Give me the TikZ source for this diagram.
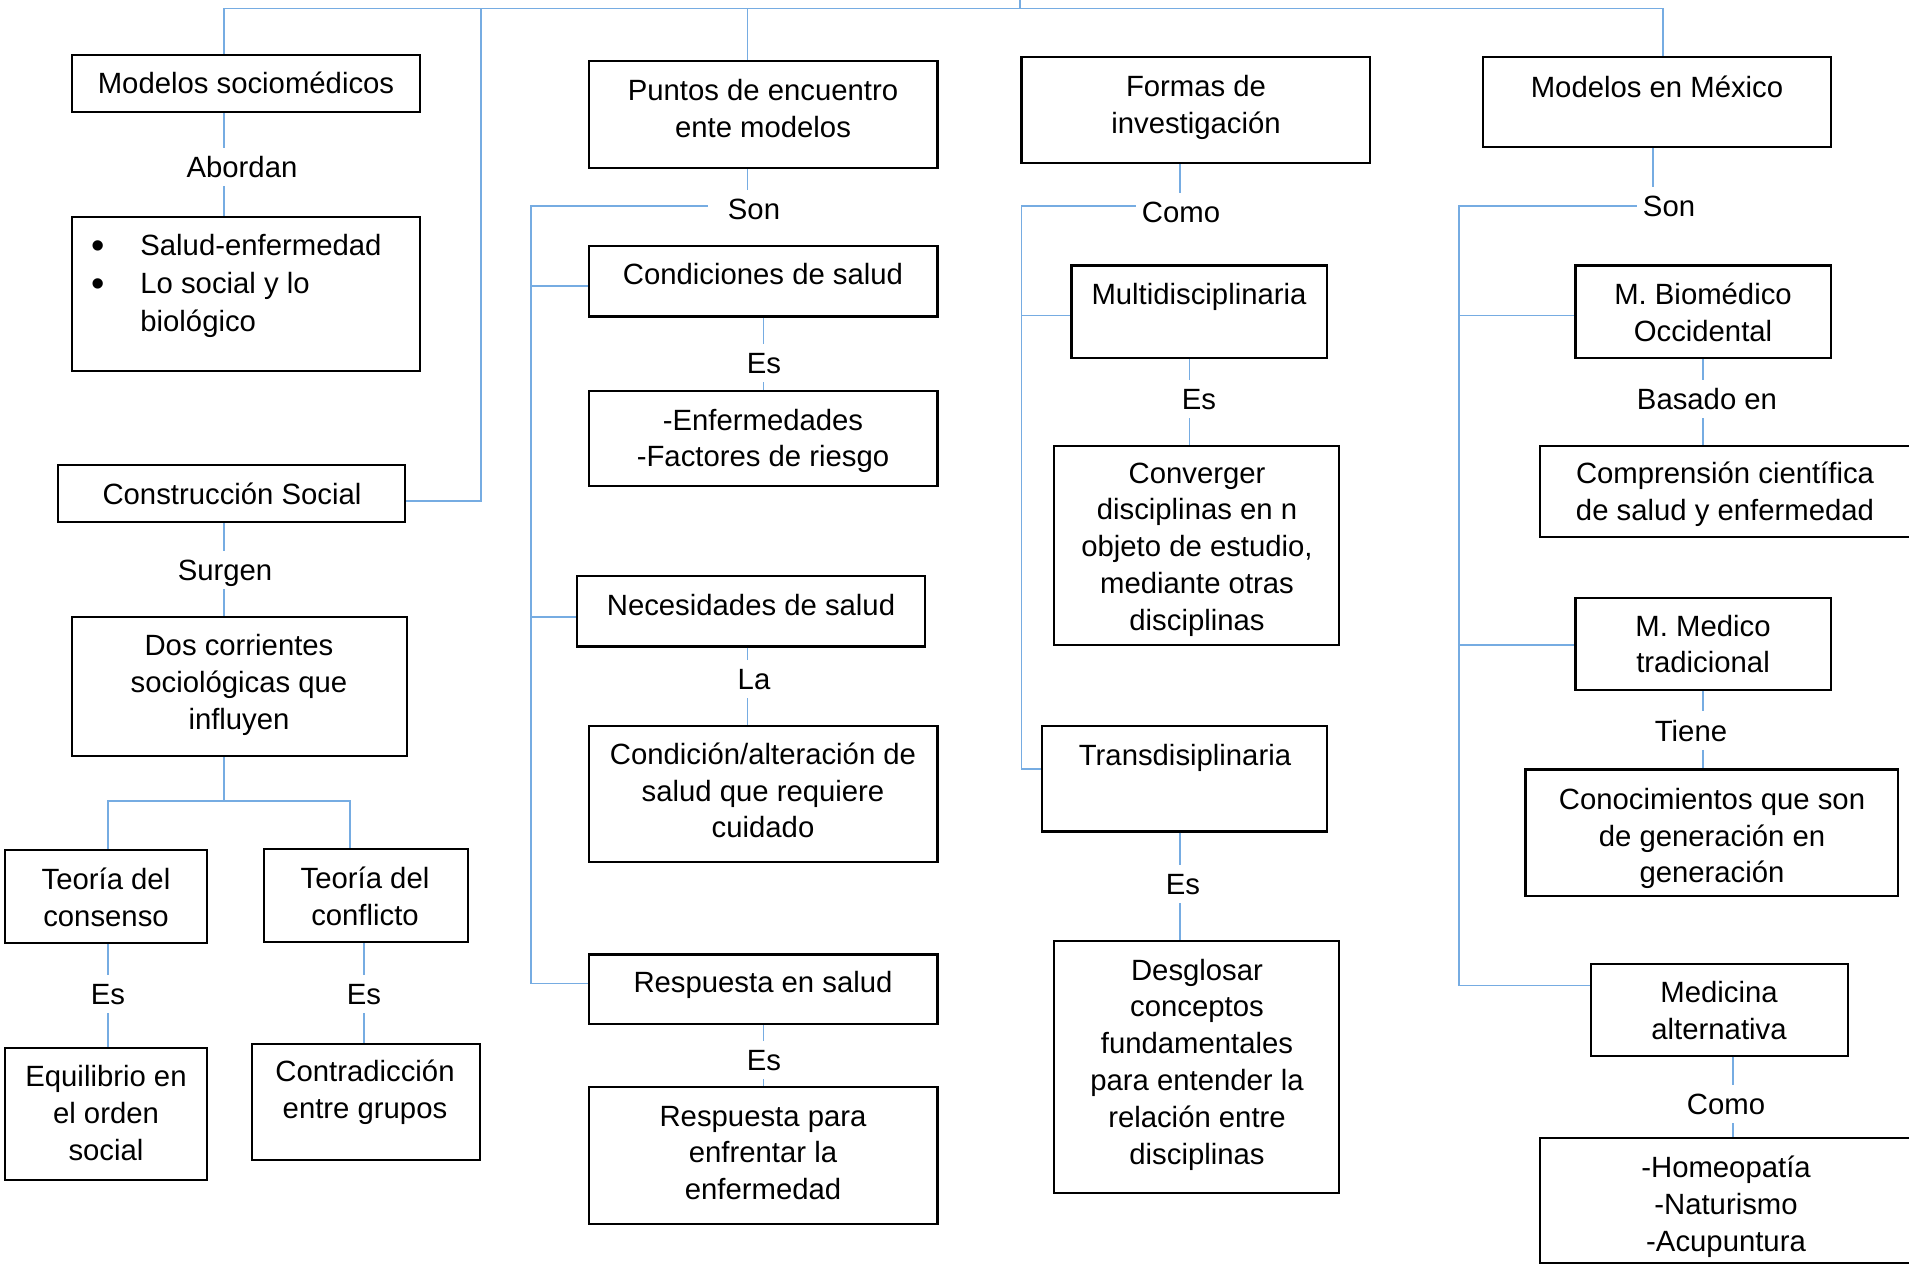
\documentclass[tikz,border=0pt]{standalone}
\usepackage{fontspec}
\setmainfont{Liberation Sans}
\usetikzlibrary{fit,calc}
\definecolor{connc}{RGB}{118,172,226}
\newcommand\fsz{\fontsize{14.65pt}{18.4pt}\selectfont}
\newcommand\bigbul{\raisebox{-1.3pt}{\fontsize{19pt}{0pt}\selectfont\textbullet}}
\begin{document}
\begin{tikzpicture}[x=0.5pt,y=-0.5pt,
  box/.style={draw=black,line width=1.1pt,inner sep=0pt,rectangle},
  txt/.style={inner sep=0pt,align=center,font=\fsz},
  lbl/.style={inner xsep=3pt,inner ysep=4.25pt,text height=10.5pt,text depth=0pt,font=\fsz},
  conn/.style={draw=connc,line width=0.9pt}]
\useasboundingbox (0,0) rectangle (1909,1265);
\clip (0,0) rectangle (1909,1265);

% ---------- column 1 ----------
\node[box,fit={(72,55) (420,112)}] (ms) {};
\node[txt] (mst) at (246,83) {Modelos sociomédicos};
\node[lbl] (abordan) at (242,167) {Abordan};
\node[box,fit={(72,217) (420,371)}] (sb) {};
\node[txt,anchor=west,align=left,font=\fontsize{14.65pt}{18.9pt}\selectfont] (sbt) at (91,286) {\makebox[24.5pt][l]{\bigbul}Salud-enfermedad\\\makebox[24.5pt][l]{\bigbul}Lo social y lo\\\hspace*{24.5pt}biológico};
\node[box,fit={(58,465) (405,522)}] (cs) {};
\node[txt] (cst) at (232,493.5) {Construcción Social};
\node[lbl] (surgen) at (225,570) {Surgen};
\node[box,fit={(72,617) (407,756)}] (dc) {};
\node[txt] (dct) at (239,685) {Dos corrientes\\sociológicas que\\influyen};
\node[box,fit={(5,850) (207,943)}] (tc1) {};
\node[txt] (tc1t) at (106,897) {Teoría del\\consenso};
\node[box,fit={(264,849) (468,942)}] (tc2) {};
\node[txt] (tc2t) at (365,896) {Teoría del\\conflicto};
\node[lbl] (es1) at (108,994) {Es};
\node[lbl] (es2) at (364,994) {Es};
\node[box,fit={(5,1048) (207,1180)}] (eq) {};
\node[txt] (eqt) at (106,1113) {Equilibrio en\\el orden\\social};
\node[box,fit={(252,1044) (480,1160)}] (ct) {};
\node[txt] (ctt) at (365,1092.5) {Contradicción\\entre grupos};

% ---------- column 2 ----------
\node[box,fit={(589,61) (937.5,168)}] (pe) {};
\node[txt] (pet) at (763,108.5) {Puntos de encuentro\\ente modelos};
\node[lbl] (son2) at (754,209) {Son};
\node[box,fit={(589,246) (937.5,316.5)}] (cds) {};
\node[txt] (cdst) at (763,274) {Condiciones de salud};
\node[lbl] (es3) at (764,363) {Es};
\node[box,fit={(589,391) (937.5,486)}] (enf) {};
\node[txt] (enft) at (763,441) {-Enfermedades\\-Factores de riesgo};
\node[box,fit={(577,576) (925,646.5)}] (nec) {};
\node[txt] (nect) at (751,605) {Necesidades de salud};
\node[lbl] (la) at (754,679) {La};
\node[box,fit={(589,725.6) (937.5,862)}] (cond) {};
\node[txt] (condt) at (763,790.5) {Condición/alteración de\\salud que requiere\\cuidado};
\node[box,fit={(589,954.5) (937.5,1024)}] (rs) {};
\node[txt] (rst) at (763,985) {Respuesta en salud};
\node[lbl] (es4) at (764,1060) {Es};
\node[box,fit={(589,1087) (937.5,1223.6)}] (rp) {};
\node[txt] (rpt) at (763,1153) {Respuesta para\\enfrentar la\\enfermedad};

% ---------- column 3 ----------
\node[box,fit={(1021.5,57) (1369.7,163)}] (fi) {};
\node[txt] (fit) at (1196,107.5) {Formas de\\investigación};
\node[lbl] (como3) at (1181,212) {Como};
\node[box,fit={(1071.4,265.4) (1327,358)}] (mul) {};
\node[txt] (mult) at (1199,297) {Multidisciplinaria};
\node[lbl] (es5) at (1199,399) {Es};
\node[box,fit={(1054,445.6) (1339,645)}] (cv) {};
\node[txt] (cvt) at (1197,549.5) {Converger\\disciplinas en n\\objeto de estudio,\\mediante otras\\disciplinas};
\node[box,fit={(1042,725.6) (1327,831.5)}] (tr) {};
\node[txt] (trt) at (1185,757.5) {Transdisiplinaria};
\node[lbl] (es6) at (1183,884) {Es};
\node[box,fit={(1054,941) (1339,1193)}] (dg) {};
\node[txt] (dgt) at (1197,1064.5) {Desglosar\\conceptos\\fundamentales\\para entender la\\relación entre\\disciplinas};

% ---------- column 4 ----------
\node[box,fit={(1483,57) (1831,147)}] (mm) {};
\node[txt] (mmt) at (1657,86.4) {Modelos en México};
\node[lbl] (son4) at (1669,206) {Son};
\node[box,fit={(1575.5,265.4) (1831,358)}] (mb) {};
\node[txt] (mbt) at (1703,312.5) {M. Biomédico\\Occidental};
\node[lbl] (bas) at (1707,399) {Basado en};
\node[box,fit={(1540,445.6) (1930,537)}] (cc) {};
\node[txt] (cct) at (1725,494.5) {Comprensión científica\\de salud y enfermedad};
\node[box,fit={(1575.5,597.8) (1831,690)}] (mt) {};
\node[txt] (mtt) at (1703,644) {M. Medico\\tradicional};
\node[lbl] (tiene) at (1691,730.5) {Tiene};
\node[box,fit={(1525.5,769.5) (1898,896)}] (cg) {};
\node[txt] (cgt) at (1712,838.5) {Conocimientos que son\\de generación en\\generación};
\node[box,fit={(1591,964) (1848,1055.6)}] (ma) {};
\node[txt] (mat) at (1719,1010.5) {Medicina\\alternativa};
\node[lbl] (como4) at (1726,1104) {Como};
\node[box,fit={(1540,1138) (1930,1263)}] (ho) {};
\node[txt] (hot) at (1726,1206.5) {-Homeopatía\\-Naturismo\\-Acupuntura};

% ---------- helper coordinates ----------
\coordinate (root) at (1020,0);
\coordinate (topL) at (224,8.5);
\coordinate (topR) at (1663,8.5);
\coordinate (Xc) at (481,8.5);
\coordinate (X1) at (224,0);
\coordinate (X2) at (747.5,8.5);
\coordinate (X2b) at (763.5,0);
\coordinate (X3) at (1180,0);
\coordinate (X3b) at (1189.5,0);
\coordinate (X4) at (1653,0);
\coordinate (X4b) at (1703,0);
\coordinate (X4c) at (1733,0);
\coordinate (brL) at (108,801);
\coordinate (brR) at (350,801);
\coordinate (Xe1) at (108,0);
\coordinate (Xe2) at (364,0);
\coordinate (T2) at (531,206);
\coordinate (T3) at (1021.5,206);
\coordinate (T4) at (1458.6,206);
\coordinate (csE) at ($(cs.north east)!0.63!(cs.south east)$);
\coordinate (cdsW) at ($(cds.north west)!0.57!(cds.south west)$);
\coordinate (necW) at ($(nec.north west)!0.58!(nec.south west)$);
\coordinate (rsW) at ($(rs.north west)!0.42!(rs.south west)$);
\coordinate (mulW) at ($(mul.north west)!0.54!(mul.south west)$);
\coordinate (trW) at ($(tr.north west)!0.41!(tr.south west)$);
\coordinate (mbW) at ($(mb.north west)!0.54!(mb.south west)$);
\coordinate (mtW) at ($(mt.north west)!0.51!(mt.south west)$);
\coordinate (maW) at ($(ma.north west)!0.24!(ma.south west)$);

% ---------- connectors ----------
\draw[conn] (root) -- (root |- topL);
\draw[conn] (ms.north -| topL) -- (topL) -- (topR) -- (topR |- mm.north);
\draw[conn] (Xc) |- (csE);
\draw[conn] (X2) -- (X2 |- pe.north);

\draw[conn] (ms.south -| X1) -- (abordan.north -| X1);
\draw[conn] (abordan.south -| X1) -- (sb.north -| X1);
\draw[conn] (cs.south -| X1) -- (surgen.north -| X1);
\draw[conn] (surgen.south -| X1) -- (dc.north -| X1);
\draw[conn] (dc.south -| X1) -- (X1 |- brL);
\draw[conn] (tc1.north -| brL) -- (brL) -- (brR) -- (tc2.north -| brR);
\draw[conn] (tc1.south -| Xe1) -- (es1.north -| Xe1);
\draw[conn] (es1.south -| Xe1) -- (eq.north -| Xe1);
\draw[conn] (tc2.south -| Xe2) -- (es2.north -| Xe2);
\draw[conn] (es2.south -| Xe2) -- (ct.north -| Xe2);

\draw[conn] (pe.south -| X2) -- (son2.north -| X2);
\draw[conn] ([xshift=-7pt]son2.west |- T2) -- (T2) -- (T2 |- rsW) -- (rsW);
\draw[conn] (T2 |- cdsW) -- (cdsW);
\draw[conn] (T2 |- necW) -- (necW);
\draw[conn] (cds.south -| X2b) -- (es3.north -| X2b);
\draw[conn] (es3.south -| X2b) -- (enf.north -| X2b);
\draw[conn] (nec.south -| X2) -- (la.north -| X2);
\draw[conn] (la.south -| X2) -- (cond.north -| X2);
\draw[conn] (rs.south -| X2b) -- (es4.north -| X2b);
\draw[conn] (es4.south -| X2b) -- (rp.north -| X2b);

\draw[conn] (fi.south -| X3) -- (como3.north -| X3);
\draw[conn] (como3.west |- T3) -- (T3) -- (T3 |- trW) -- (trW);
\draw[conn] (T3 |- mulW) -- (mulW);
\draw[conn] (mul.south -| X3b) -- (es5.north -| X3b);
\draw[conn] (es5.south -| X3b) -- (cv.north -| X3b);
\draw[conn] (tr.south -| X3) -- (es6.north -| X3);
\draw[conn] (es6.south -| X3) -- (dg.north -| X3);

\draw[conn] (mm.south -| X4) -- (son4.north -| X4);
\draw[conn] (son4.west |- T4) -- (T4) -- (T4 |- maW) -- (maW);
\draw[conn] (T4 |- mbW) -- (mbW);
\draw[conn] (T4 |- mtW) -- (mtW);
\draw[conn] (mb.south -| X4b) -- (bas.north -| X4b);
\draw[conn] (bas.south -| X4b) -- (cc.north -| X4b);
\draw[conn] (mt.south -| X4b) -- (tiene.north -| X4b);
\draw[conn] (tiene.south -| X4b) -- (cg.north -| X4b);
\draw[conn] (ma.south -| X4c) -- (como4.north -| X4c);
\draw[conn] (como4.south -| X4c) -- (ho.north -| X4c);
\end{tikzpicture}
\end{document}
